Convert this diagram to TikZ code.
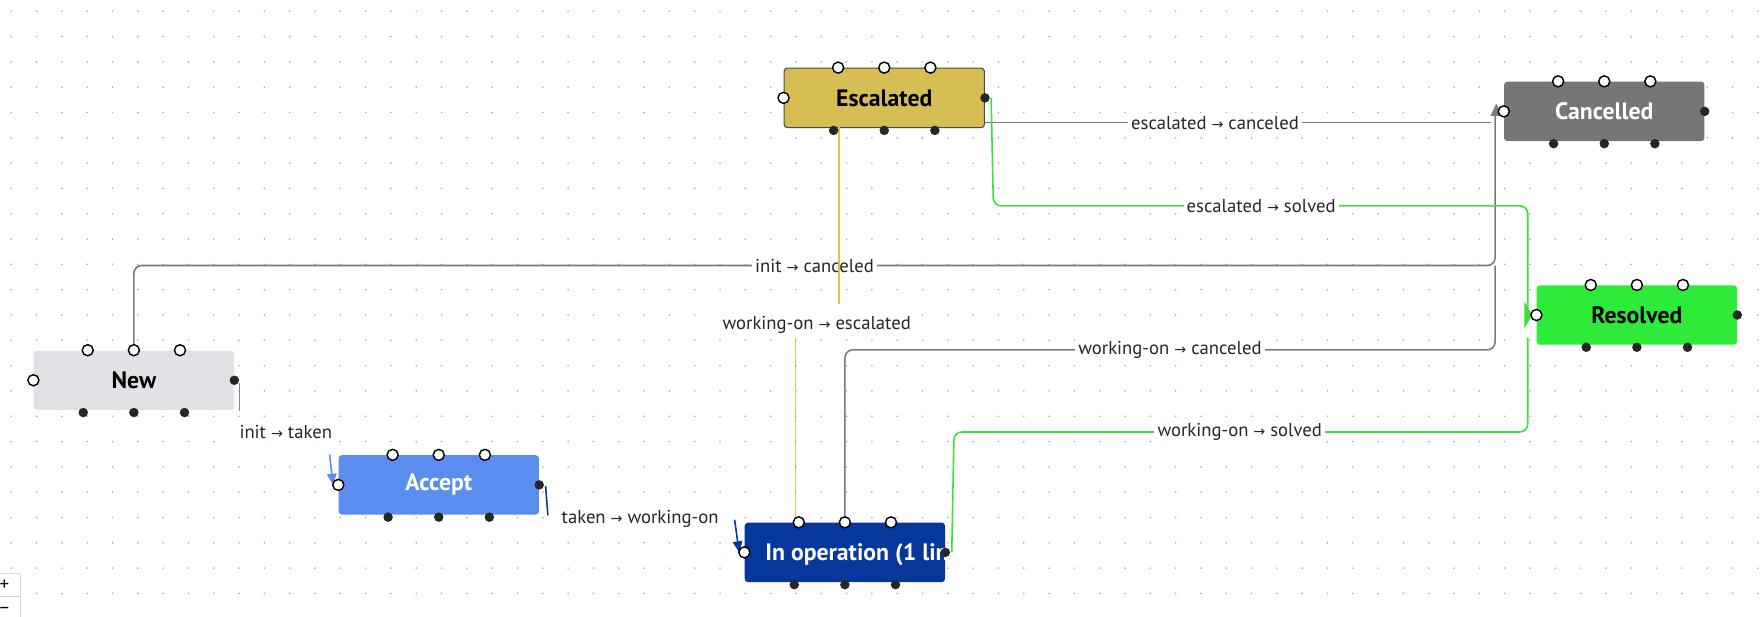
\documentclass[tikz,border=0pt]{standalone}
\usepackage{fontspec}
\setmainfont{PT Sans}
\newfontfamily\arrfont{DejaVu Sans}
\newcommand{\ar}{{\arrfont\fontsize{9}{11}\selectfont →}}
\usetikzlibrary{arrows.meta,calc}
\definecolor{cnew}{HTML}{E2E2E6}
\definecolor{cacc}{HTML}{5B8DEF}
\definecolor{cop}{HTML}{06379B}
\definecolor{cesc}{HTML}{D6BE55}
\definecolor{ccan}{HTML}{767676}
\definecolor{cres}{HTML}{2EEB3A}
\definecolor{cgreen}{HTML}{3CE03C}
\definecolor{cgray}{HTML}{7A7A7A}
\definecolor{cyel}{HTML}{E0C050}
\begin{document}
\begin{tikzpicture}[x=0.025cm,y=-0.025cm,
  st/.style={rectangle,rounded corners=2pt,minimum width=4.45cm,minimum height=1.32cm,font=\fontsize{15}{17}\selectfont\bfseries,inner sep=0pt},
  lab/.style={fill=white,font=\fontsize{11.8}{13}\selectfont,inner sep=2pt,text=black!85},
  po/.style={circle,draw=black,fill=white,line width=0.9pt,minimum size=7pt,inner sep=0pt},
  pf/.style={circle,fill=black!85,minimum size=6pt,inner sep=0pt},
  ed/.style={line width=1pt,rounded corners=5pt},
  tip/.style={-{Triangle[length=7pt,width=6pt]}}]
\useasboundingbox (0,0) rectangle (1568,548);
\fill[white] (0,0) rectangle (1568,548);
\foreach \i in {0,...,69} \foreach \j in {0,...,24}
  \fill[black!30] (10+22.5*\i,10+22.5*\j) circle (0.6pt);
% nodes
\node[st,fill=cnew] (new) at (119,338) {New};
\node[st,fill=cacc,text=white] (acc) at (390,431) {Accept};
\node[st,fill=cop] (op) at (751,491) {};
\begin{scope}\clip (663,465) rectangle (840,518);
\node[anchor=west,font=\fontsize{15}{17}\selectfont\bfseries,text=white,inner sep=0pt] at (680,493) {In operation (1 line)};
\end{scope}
\node[st,fill=cesc,draw=black!70,line width=0.7pt] (esc) at (786,87) {Escalated};
\node[st,fill=ccan,text=white] (can) at (1426,99) {Cancelled};
\node[st,fill=cres] (res) at (1455,280) {Resolved};
% edges
\coordinate (c1) at (1329,236);
\draw[ed,cgray] (new.north) -- (119,236) -- (c1) -- (1329,100);
\node[lab] at (724,236) {init \ar{} canceled};
\draw[ed,cgray] (esc.east |- 0,109) -- (1325,109);
\node[lab] at (1080,109) {escalated \ar{} canceled};
\draw[ed,cgray] (751,465) -- (751,311) -- (1329,311) -- (1329,236);
\node[lab] at (1040,311) {working-on \ar{} canceled};
\fill[cgray] (1330,92) -- (1325,103) -- (1335,103) -- cycle;
\draw[ed,cgreen] (881,87) -- (883,183) -- (1358,183) -- (1358,280);
\node[lab] at (1121,183) {escalated \ar{} solved};
\draw[ed,cgreen] (846,491) -- (848,384) -- (1358,384) -- (1358,300);
\node[lab] at (1102,384) {working-on \ar{} solved};
\fill[cgreen] (1362,280) -- (1355,268) -- (1355,292) -- cycle;
\draw[line width=1pt,cyel] (707,465) -- (707,300);
\draw[line width=1pt,cyel] (746,113) -- (746,270);
\node[lab] at (726,289) {working-on \ar{} escalated};
\draw[line width=1pt,cacc] (213,340) -- (213,365);
\node[lab] at (254,384) {init \ar{} taken};
\draw[line width=1pt,cacc,tip] (293,404) -- (296,431);
\draw[line width=1pt,cop] (485,432) -- (487,458);
\node[lab] at (569,461) {taken \ar{} working-on};
\draw[line width=1pt,cop,tip] (653,462) -- (657,491);
% ports
\foreach \n in {new,acc,op,esc,can,res}{
  \node[po] at ($(\n.north)+(-41,0)$) {};
  \node[po] at (\n.north) {};
  \node[po] at ($(\n.north)+(41,0)$) {};
  \node[pf] at ($(\n.south)+(-45,2)$) {};
  \node[pf] at ($(\n.south)+(0,2)$) {};
  \node[pf] at ($(\n.south)+(45,2)$) {};
  \node[po] at (\n.west) {};
  \node[pf] at (\n.east) {};
}
% zoom controls
\draw[black!15,fill=white] (-5,510) rectangle (18,530);
\draw[black!15,fill=white] (-5,530) rectangle (18,552);
\node[font=\fontsize{12}{12}\selectfont] at (4,520) {+};
\node[font=\fontsize{12}{12}\selectfont] at (4,543) {−};
\end{tikzpicture}
\end{document}
